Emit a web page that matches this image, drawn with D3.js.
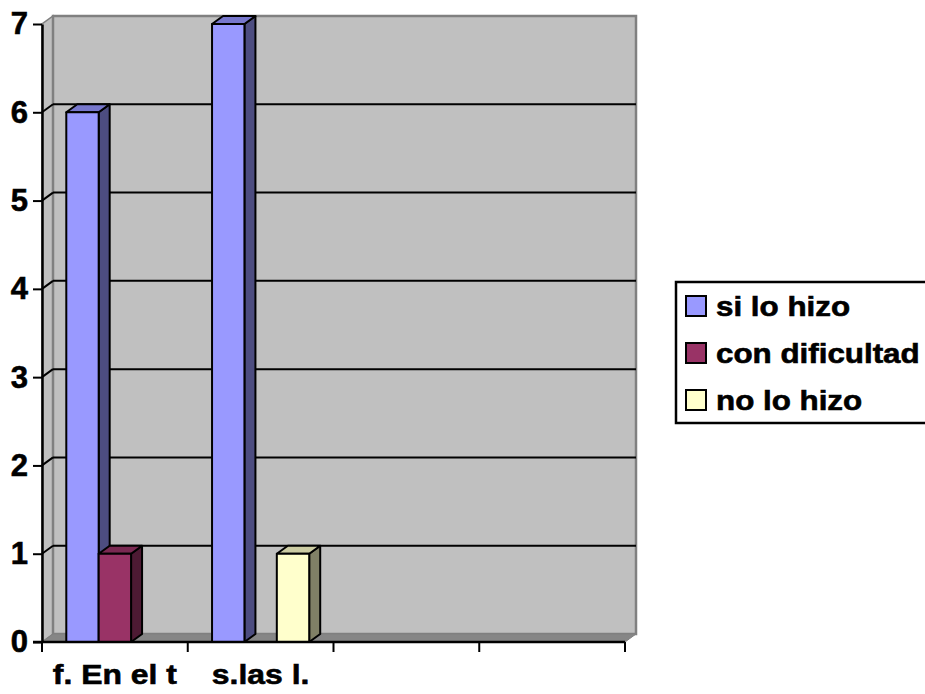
<!DOCTYPE html>
<html>
<head>
<meta charset="utf-8">
<script src="https://cdn.jsdelivr.net/npm/d3@7"></script>
<style>
  html, body { margin: 0; padding: 0; background: #fff; }
  svg { display: block; }
  text { font-family: "Liberation Sans", Arial, sans-serif; font-weight: bold; fill: #000; stroke: #000; stroke-width: 0.6px; }
</style>
</head>
<body>
<svg id="chart" width="925" height="694"></svg>
<script>
// ---- data ----
const categories = ["f. En el t", "s.las l.", "", ""];
const seriesNames = ["si lo hizo", "con dificultad", "no lo hizo"];
const siLoHizo = [6, 7, 0, 0];
const conDificultad = [1, 0, 0, 0];
const noLoHizo = [0, 1, 0, 0];
const yTicks = [0, 1, 2, 3, 4, 5, 6, 7];

const seriesValues = [siLoHizo, conDificultad, noLoHizo];
const colors = [
  { front: "#9999FF", top: "#7777CC", side: "#4D4D80" },
  { front: "#993366", top: "#7A2952", side: "#4D1A33" },
  { front: "#FFFFCC", top: "#CCCCA3", side: "#808066" }
];

const svg = d3.select("#chart");

// front plane geometry
const x0 = 42, x1 = 625;
const dx = 11, dy = -8;
const y = d3.scaleLinear().domain([0, 7]).range([642, 24]);
const xBand = d3.scaleBand().domain(d3.range(categories.length)).range([x0, x1]).paddingInner(0).paddingOuter(0);
const slot = xBand.bandwidth();
const bw = slot / (seriesNames.length + 1.5);

const g = svg.append("g");

// side wall
g.append("polygon")
  .attr("points", [[x0, y(0)], [x0, y(7)], [x0 + dx, y(7) + dy], [x0 + dx, y(0) + dy]].join(" "))
  .attr("fill", "#C0C0C0").attr("stroke", "#808080").attr("stroke-width", 1.5);

// back wall
g.append("rect")
  .attr("x", x0 + dx).attr("y", y(7) + dy)
  .attr("width", x1 - x0).attr("height", y(0) - y(7))
  .attr("fill", "#C0C0C0").attr("stroke", "#808080").attr("stroke-width", 2.5);

// floor
g.append("polygon")
  .attr("points", [[x0, y(0)], [x1, y(0)], [x1 + dx, y(0) + dy], [x0 + dx, y(0) + dy]].join(" "))
  .attr("fill", "#868686").attr("stroke", "#808080").attr("stroke-width", 1);

// gridlines
const grid = yTicks.filter(v => v > 0 && v < 7);
g.selectAll("line.gback").data(grid).enter().append("line")
  .attr("x1", x0 + dx).attr("x2", x1 + dx)
  .attr("y1", d => y(d) + dy).attr("y2", d => y(d) + dy)
  .attr("stroke", "#000").attr("stroke-width", 2);
g.selectAll("line.gside").data(grid).enter().append("line")
  .attr("x1", x0).attr("x2", x0 + dx)
  .attr("y1", d => y(d)).attr("y2", d => y(d) + dy)
  .attr("stroke", "#000").attr("stroke-width", 2);

// bars
const bars = [];
categories.forEach((c, ci) => {
  seriesValues.forEach((vals, si) => {
    if (vals[ci] > 0) bars.push({ ci, si, v: vals[ci] });
  });
});
const bg = g.append("g");
bars.forEach(b => {
  const bx = xBand(b.ci) + 0.75 * bw + b.si * bw;
  const top = y(b.v), bot = y(0);
  const col = colors[b.si];
  const grp = bg.append("g").attr("stroke", "#000").attr("stroke-width", 2).attr("stroke-linejoin", "round");
  grp.append("polygon")
    .attr("points", [[bx + bw, bot], [bx + bw, top], [bx + bw + dx, top + dy], [bx + bw + dx, bot + dy]].join(" "))
    .attr("fill", col.side);
  grp.append("polygon")
    .attr("points", [[bx, top], [bx + bw, top], [bx + bw + dx, top + dy], [bx + dx, top + dy]].join(" "))
    .attr("fill", col.top);
  grp.append("rect")
    .attr("x", bx).attr("y", top).attr("width", bw).attr("height", bot - top)
    .attr("fill", col.front);
});

// y axis
const yAxis = d3.axisLeft(y).tickValues(yTicks).tickSize(9).tickSizeOuter(0).tickPadding(5).tickFormat(d3.format("d"));
const ya = svg.append("g").attr("transform", `translate(${x0},0)`).call(yAxis);
ya.select(".domain").attr("stroke", "#000").attr("stroke-width", 2.5);
ya.selectAll(".tick line").attr("stroke", "#000").attr("stroke-width", 2);
ya.selectAll(".tick text").attr("font-size", 31).attr("font-family", "Liberation Sans, Arial, sans-serif").attr("font-weight", "bold").attr("fill", "#000");

// x axis line + boundary ticks
const boundaries = d3.range(categories.length + 1).map(i => x0 + i * slot);
svg.append("line").attr("x1", x0 - 9).attr("x2", x1).attr("y1", y(0)).attr("y2", y(0))
  .attr("stroke", "#000").attr("stroke-width", 2.5);
svg.selectAll("line.xt").data(boundaries).enter().append("line")
  .attr("x1", d => d).attr("x2", d => d).attr("y1", y(0)).attr("y2", y(0) + 10)
  .attr("stroke", "#000").attr("stroke-width", 2);

// category labels
svg.selectAll("text.cat").data(categories).enter().append("text")
  .attr("transform", (d, i) => `translate(${xBand(i) + slot / 2},684) scale(1.12,1)`)
  .attr("text-anchor", "middle").attr("font-size", 28.5)
  .text(d => d);

// legend
const lg = svg.append("g");
lg.append("rect").attr("x", 676).attr("y", 282).attr("width", 270).attr("height", 141)
  .attr("fill", "#fff").attr("stroke", "#000").attr("stroke-width", 2.5);
seriesNames.forEach((name, i) => {
  const cy = 306 + i * 47;
  lg.append("rect").attr("x", 686).attr("y", cy - 10).attr("width", 20).attr("height", 20)
    .attr("fill", colors[i].front).attr("stroke", "#000").attr("stroke-width", 2);
  lg.append("text").attr("transform", `translate(716,${cy + 10}) scale(1.14,1)`)
    .attr("font-size", 27.5).text(name);
});
</script>
</body>
</html>
